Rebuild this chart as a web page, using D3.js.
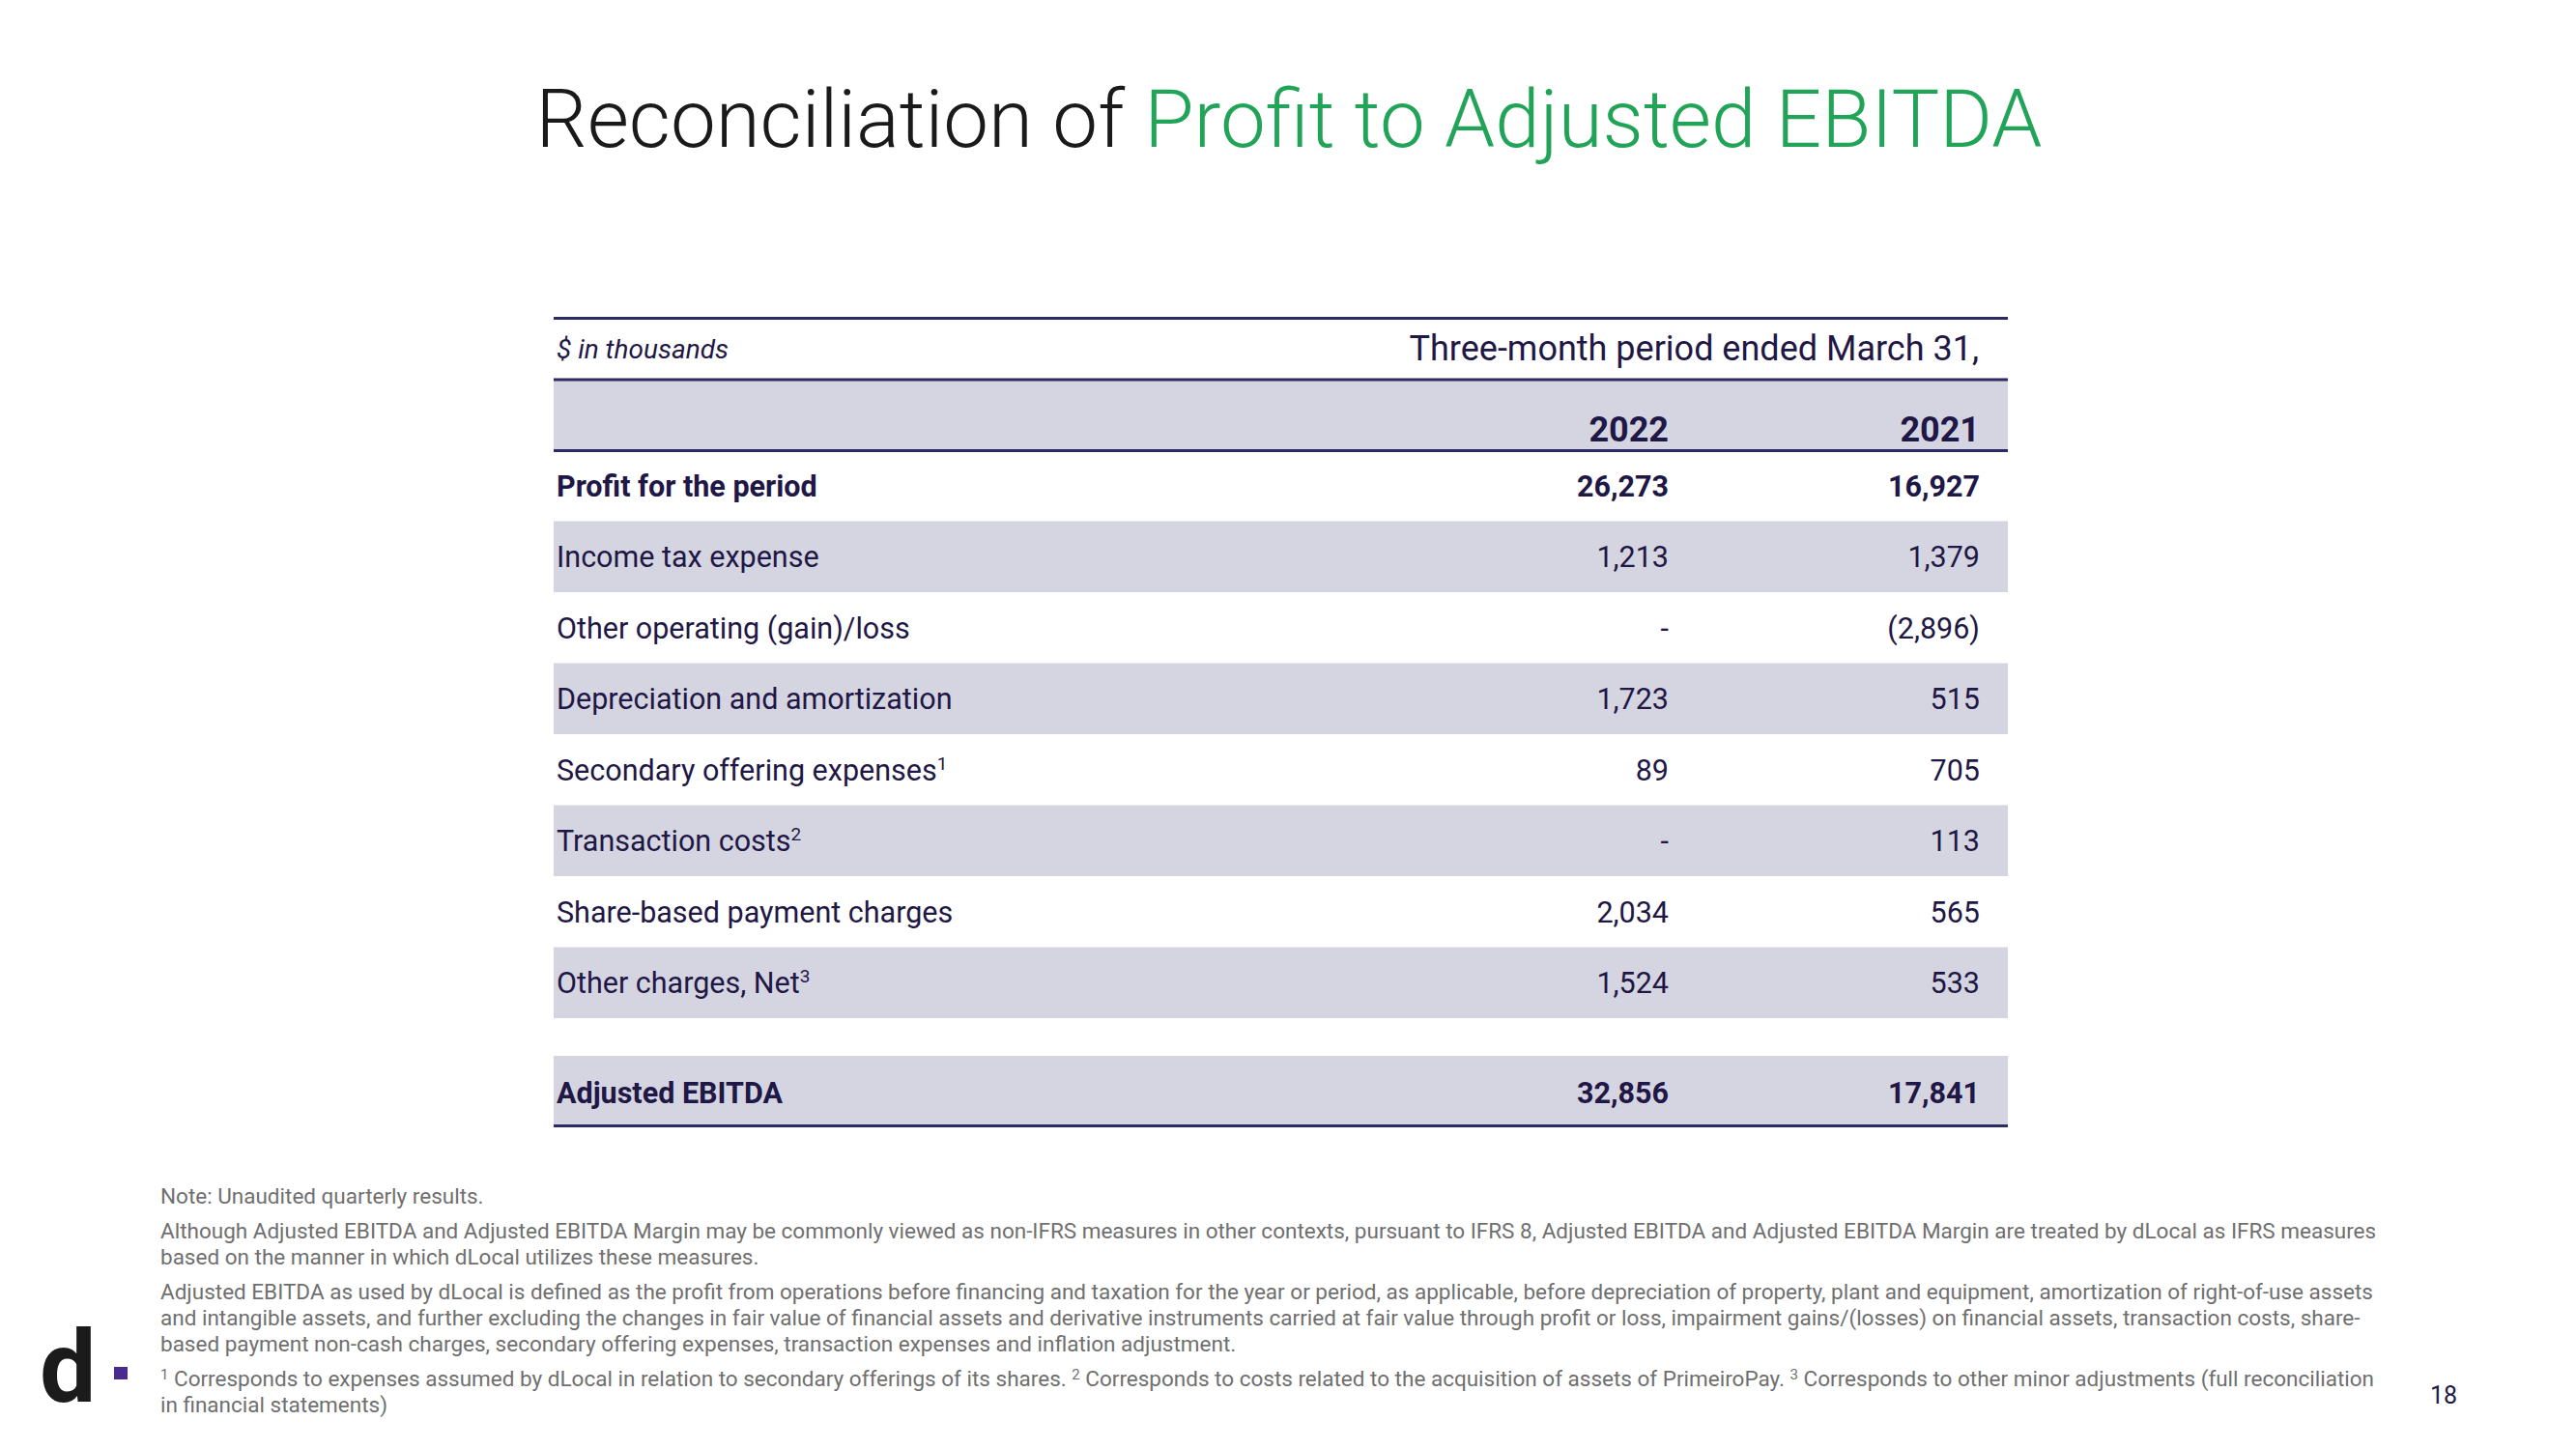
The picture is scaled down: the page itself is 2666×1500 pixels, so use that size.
<!DOCTYPE html>
<html>
<head>
<meta charset="utf-8">
<script src="https://cdn.jsdelivr.net/npm/d3@7"></script>
<style>
  html, body { margin: 0; padding: 0; background: #ffffff; }
  svg { display: block; font-family: Roboto, "Noto Sans", sans-serif; }
</style>
</head>
<body>
<svg id="chart" width="2666" height="1500"></svg>
<script>
// ---------- data ----------
const titleBlack = "Reconciliation of ";
const titleGreen = "Profit to Adjusted EBITDA";
const unitLabel = "$ in thousands";
const periodLabel = "Three-month period ended March 31,";
const years = ["2022", "2021"];
const rowLabels = [
  "Profit for the period",
  "Income tax expense",
  "Other operating (gain)/loss",
  "Depreciation and amortization",
  "Secondary offering expenses",
  "Transaction costs",
  "Share-based payment charges",
  "Other charges, Net"
];
const rowSup = ["", "", "", "", "1", "2", "", "3"];
const rowBold = [true, false, false, false, false, false, false, false];
const values2022 = [26273, 1213, null, 1723, 89, null, 2034, 1524];
const values2021 = [16927, 1379, -2896, 515, 705, 113, 565, 533];
const totalLabel = "Adjusted EBITDA";
const total2022 = 32856;
const total2021 = 17841;
const noteLines = [
  [{t: "Note: Unaudited quarterly results."}],
  [{t: "Although Adjusted EBITDA and Adjusted EBITDA Margin may be commonly viewed as non-IFRS measures in other contexts, pursuant to IFRS 8, Adjusted EBITDA and Adjusted EBITDA Margin are treated by dLocal as IFRS measures"}],
  [{t: "based on the manner in which dLocal utilizes these measures."}],
  [{t: "Adjusted EBITDA as used by dLocal is defined as the profit from operations before financing and taxation for the year or period, as applicable, before depreciation of property, plant and equipment, amortization of right-of-use assets"}],
  [{t: "and intangible assets, and further excluding the changes in fair value of financial assets and derivative instruments carried at fair value through profit or loss, impairment gains/(losses) on financial assets, transaction costs, share-"}],
  [{t: "based payment non-cash charges, secondary offering expenses, transaction expenses and inflation adjustment."}],
  [{t: "1", sup: true}, {t: " Corresponds to expenses assumed by dLocal in relation to secondary offerings of its shares. "}, {t: "2", sup: true}, {t: " Corresponds to costs related to the acquisition of assets of PrimeiroPay. "}, {t: "3", sup: true}, {t: " Corresponds to other minor adjustments (full reconciliation"}],
  [{t: "in financial statements)"}]
];
const noteParagraphStart = [0, 1, 3, 6];
const pageNumber = "18";

// ---------- styles ----------
const C = {
  text: "#1f1745",
  line: "#2b2a62",
  band: "#d5d5e1",
  green: "#22a458",
  black: "#1a1a1a",
  note: "#6f6f6f",
  purple: "#4a2a8c"
};

const svg = d3.select("#chart");

// ---------- title ----------
const title = svg.append("text")
  .attr("x", 1334).attr("y", 152)
  .attr("text-anchor", "middle")
  .style("font-size", "83.5px").style("font-weight", 300);
title.append("tspan").attr("fill", C.black).text(titleBlack);
title.append("tspan").attr("fill", C.green).text(titleGreen);

// ---------- table geometry via scales ----------
const tableLeft = 573, tableRight = 2078;
const xCol = d3.scaleOrdinal().domain(["label", ...years]).range([576, 1727, 2049]);
const yRow = d3.scaleBand().domain(d3.range(rowLabels.length)).range([466, 1054]).paddingInner(0);
const yTotal = d3.scaleBand().domain([0]).range([1093, 1165]);

const fmt = v => v === null ? "-" : (v < 0 ? "(" + d3.format(",")(-v) + ")" : d3.format(",")(v));

// header band
svg.append("rect").attr("x", tableLeft).attr("y", 392).attr("width", tableRight - tableLeft).attr("height", 74).attr("fill", C.band);

// row bands
svg.selectAll("rect.rowband")
  .data(d3.range(rowLabels.length).filter(i => i % 2 === 1))
  .join("rect")
  .attr("class", "rowband")
  .attr("x", tableLeft).attr("width", tableRight - tableLeft)
  .attr("y", i => yRow(i)).attr("height", yRow.bandwidth())
  .attr("fill", C.band);

// total band
svg.append("rect").attr("x", tableLeft).attr("y", yTotal(0)).attr("width", tableRight - tableLeft).attr("height", yTotal.bandwidth()).attr("fill", C.band);

// rules
[329.5, 393, 466.5, 1165.5].forEach(y => {
  svg.append("line").attr("x1", tableLeft).attr("x2", tableRight).attr("y1", y).attr("y2", y)
    .attr("stroke", C.line).attr("stroke-width", 3);
});

// header text
svg.append("text").attr("x", 576).attr("y", 371)
  .attr("fill", C.text).style("font-size", "28px").style("font-style", "italic")
  .text(unitLabel);
svg.append("text").attr("x", 2048).attr("y", 373).attr("text-anchor", "end")
  .attr("fill", C.text).style("font-size", "36px")
  .text(periodLabel);
svg.selectAll("text.year").data(years).join("text")
  .attr("class", "year")
  .attr("x", d => xCol(d)).attr("y", 457).attr("text-anchor", "end")
  .attr("fill", C.text).style("font-size", "36px").style("font-weight", 700)
  .text(d => d);

// row labels
const fs = 30.5;
const labels = svg.selectAll("text.rowlabel").data(rowLabels).join("text")
  .attr("class", "rowlabel")
  .attr("x", xCol("label"))
  .attr("y", (d, i) => yRow(i) + yRow.bandwidth() / 2 + fs * 0.36)
  .attr("fill", C.text).style("font-size", fs + "px")
  .style("font-weight", (d, i) => rowBold[i] ? 700 : 400);
labels.append("tspan").text(d => d);
labels.filter((d, i) => rowSup[i] !== "")
  .append("tspan").attr("dy", -11).style("font-size", "19px")
  .text(d => rowSup[rowLabels.indexOf(d)]);

// values
[[years[0], values2022], [years[1], values2021]].forEach(([yr, vals]) => {
  svg.selectAll("text.v" + yr).data(vals).join("text")
    .attr("class", "v" + yr)
    .attr("x", xCol(yr))
    .attr("y", (d, i) => yRow(i) + yRow.bandwidth() / 2 + fs * 0.36)
    .attr("text-anchor", "end")
    .attr("fill", C.text).style("font-size", fs + "px")
    .style("font-weight", (d, i) => rowBold[i] ? 700 : 400)
    .text(d => fmt(d));
});

// total row
const ty = yTotal(0) + yTotal.bandwidth() / 2 + fs * 0.36 + 2;
svg.append("text").attr("x", xCol("label")).attr("y", ty)
  .attr("fill", C.text).style("font-size", fs + "px").style("font-weight", 700).text(totalLabel);
svg.append("text").attr("x", xCol(years[0])).attr("y", ty).attr("text-anchor", "end")
  .attr("fill", C.text).style("font-size", fs + "px").style("font-weight", 700).text(fmt(total2022));
svg.append("text").attr("x", xCol(years[1])).attr("y", ty).attr("text-anchor", "end")
  .attr("fill", C.text).style("font-size", fs + "px").style("font-weight", 700).text(fmt(total2021));

// ---------- notes ----------
let ny = 1246;
noteLines.forEach((segs, i) => {
  if (i > 0) ny += noteParagraphStart.includes(i) ? 36 : 27;
  const t = svg.append("text").attr("x", 166).attr("y", ny)
    .attr("fill", C.note).style("font-size", "22.5px");
  segs.forEach(s => {
    const sp = t.append("tspan").text(s.t);
    if (s.sup) sp.style("font-size", "15px").attr("baseline-shift", "7");
  });
});

// ---------- logo ----------
svg.append("text").attr("x", 41).attr("y", 1451)
  .attr("fill", "#1b1b1b").style("font-size", "104px").style("font-weight", 700)
  .text("d");
svg.append("rect").attr("x", 118).attr("y", 1415).attr("width", 14).attr("height", 13).attr("fill", C.purple);

// page number
svg.append("text").attr("x", 2543).attr("y", 1453).attr("text-anchor", "end")
  .attr("fill", C.text).style("font-size", "25px").text(pageNumber);
</script>
</body>
</html>
